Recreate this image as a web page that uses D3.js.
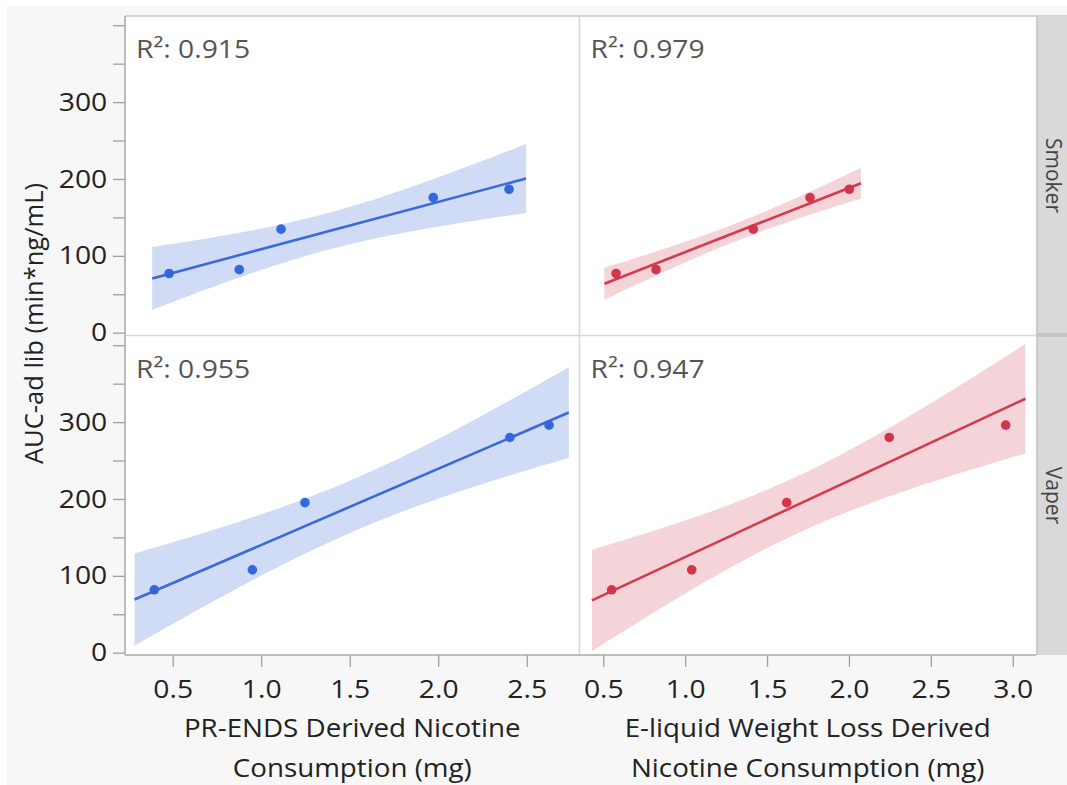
<!DOCTYPE html>
<html><head><meta charset="utf-8">
<script src="https://cdn.jsdelivr.net/npm/d3@7"></script>
<style>body{margin:0;background:#fff} svg{display:block}</style>
</head><body>
<svg id="c" width="1067" height="785"></svg>
<script>
// ---------- data ----------
const groups = ["Smoker", "Vaper"];
const xTitles = [["PR-ENDS Derived Nicotine", "Consumption (mg)"], ["E-liquid Weight Loss Derived", "Nicotine Consumption (mg)"]];
const yTitle = "AUC-ad lib (min*ng/mL)";
const smokerAUC = [77, 82, 134.7, 175.7, 186.6];
const vaperAUC = [81.8, 107.8, 195.2, 280, 296];
const smokerPRENDS = [0.48, 0.876, 1.112, 1.972, 2.40];
const smokerELiquid = [0.578, 0.822, 1.416, 1.762, 2.002];
const vaperPRENDS = [0.396, 0.950, 1.247, 2.405, 2.626];
const vaperELiquid = [0.551, 1.040, 1.620, 2.246, 2.957];
const r2Labels = [["0.915", "0.979"], ["0.955", "0.947"]];
const xTicksLeft = [0.5, 1.0, 1.5, 2.0, 2.5];
const xTicksRight = [0.5, 1.0, 1.5, 2.0, 2.5, 3.0];
const yTickLabels = [0, 100, 200, 300];
const yAllTicks = [0, 50, 100, 150, 200, 250, 300, 350, 400];

const panelX = [[smokerPRENDS, smokerELiquid], [vaperPRENDS, vaperELiquid]];
const panelY = [smokerAUC, vaperAUC];
const colors = [
  {line: "#3b6ad8", dot: "#3466dc", band: "#d0dcf5"},
  {line: "#d33b4e", dot: "#d2354a", band: "#f4d3d9"}
];
const T_CRIT = 3.182446; // t(0.975, df=3)

// ---------- layout ----------
const svg = d3.select("#c");
const FONT = "'Open Sans', 'Noto Sans', sans-serif";
const SX = 1.11; // horizontal stretch of text
const L = 125, M = 579.5, R = 1036, T = 16, H1 = 335, H2 = 336, B = 655;
const cols = [[L, M], [M, R]];
const rows = [[T, H1], [H2, B]];

svg.append("rect").attr("x", 7).attr("y", 6).attr("width", 1060).attr("height", 779).attr("fill", "#f7f7f7");
svg.append("rect").attr("x", L).attr("y", T).attr("width", R - L).attr("height", B - T).attr("fill", "#fff");

const xScales = [
  d3.scaleLinear().domain([0.2305, 2.798]).range([L, M]),
  d3.scaleLinear().domain([0.3547, 3.142]).range([M, R])
];
const yScales = rows.map(r => d3.scaleLinear().domain([-3, 412]).range([r[1], r[0]]));

function fit(xs, ys) {
  const n = xs.length, mx = d3.mean(xs), my = d3.mean(ys);
  let sxx = 0, sxy = 0, syy = 0;
  for (let i = 0; i < n; i++) { sxx += (xs[i]-mx)**2; sxy += (xs[i]-mx)*(ys[i]-my); syy += (ys[i]-my)**2; }
  const b = sxy / sxx, a = my - b * mx;
  const s = Math.sqrt((syy - b * sxy) / (n - 2));
  return {a, b, f: x => a + b * x, half: x => T_CRIT * s * Math.sqrt(1 / n + (x - mx) ** 2 / sxx)};
}

function hText(x, y, txt, size, fill, anchor) {
  return svg.append("text").attr("transform", `translate(${x},${y}) scale(${SX},1)`)
    .attr("text-anchor", anchor || "start").attr("font-family", FONT).attr("font-size", size)
    .attr("fill", fill).text(txt);
}

// dividers
svg.append("line").attr("x1", M).attr("x2", M).attr("y1", T).attr("y2", B).attr("stroke", "#d6d6d6").attr("stroke-width", 1.5);
svg.append("line").attr("x1", L).attr("x2", R).attr("y1", (H1 + H2) / 2).attr("y2", (H1 + H2) / 2).attr("stroke", "#d6d6d6").attr("stroke-width", 1.5);

for (let r = 0; r < 2; r++) {
  for (let c = 0; c < 2; c++) {
    const xs = panelX[r][c], ys = panelY[r], xS = xScales[c], yS = yScales[r];
    const col = colors[c];
    const g = svg.append("g");
    const m = fit(xs, ys);
    const [xmin, xmax] = d3.extent(xs);
    const pad = (xmax - xmin) * 0.05;
    const samples = d3.range(0, 81).map(i => xmin - pad + (xmax - xmin + 2 * pad) * i / 80);
    g.append("path").datum(samples)
      .attr("d", d3.area().x(d => xS(d)).y0(d => yS(m.f(d) - m.half(d))).y1(d => yS(m.f(d) + m.half(d))))
      .attr("fill", col.band);
    g.append("path").datum([xmin - pad, xmax + pad])
      .attr("d", d3.line().x(d => xS(d)).y(d => yS(m.f(d))))
      .attr("stroke", col.line).attr("stroke-width", 2.6).attr("fill", "none");
    g.selectAll("circle").data(xs.map((x, i) => [x, ys[i]])).join("circle")
      .attr("cx", d => xS(d[0])).attr("cy", d => yS(d[1])).attr("r", 4.8).attr("fill", col.dot);
    hText(cols[c][0] + 11, rows[r][0] + 42, "R²: " + r2Labels[r][c], 25.5, "#555");
  }
}

// frame
svg.append("line").attr("x1", L).attr("x2", 1067).attr("y1", T).attr("y2", T).attr("stroke", "#c6c6c6").attr("stroke-width", 1.5);
svg.append("line").attr("x1", L).attr("x2", L).attr("y1", T).attr("y2", B).attr("stroke", "#a8a8a8").attr("stroke-width", 1.5);
svg.append("line").attr("x1", L).attr("x2", R).attr("y1", B).attr("y2", B).attr("stroke", "#a8a8a8").attr("stroke-width", 1.5);

// y axes
for (let r = 0; r < 2; r++) {
  const ax = svg.append("g").attr("transform", `translate(${L},0)`)
    .call(d3.axisLeft(yScales[r]).tickValues(yAllTicks).tickSize(12).tickPadding(4)
      .tickFormat(d => yTickLabels.includes(d) ? d : ""));
  ax.select(".domain").remove();
  ax.selectAll(".tick line").attr("stroke", "#a0a0a0").attr("stroke-width", 1.3);
  ax.selectAll(".tick text").attr("font-family", FONT).attr("font-size", 25.5).attr("fill", "#222")
    .attr("transform", `scale(${SX},1)`);
}
// x axes
[xTicksLeft, xTicksRight].forEach((tv, c) => {
  const ax = svg.append("g").attr("transform", `translate(0,${B})`)
    .call(d3.axisBottom(xScales[c]).tickValues(tv).tickSize(12).tickPadding(13).tickFormat(d3.format(".1f")));
  ax.select(".domain").remove();
  ax.selectAll(".tick line").attr("stroke", "#a0a0a0").attr("stroke-width", 1.3);
  ax.selectAll(".tick text").attr("font-family", FONT).attr("font-size", 25.5).attr("fill", "#222")
    .attr("transform", `scale(${SX},1)`);
  const cx = (cols[c][0] + cols[c][1]) / 2;
  xTitles[c].forEach((t, i) => hText(cx, 737 + i * 40, t, 25, "#222", "middle"));
});
// y title
svg.append("text").attr("transform", `translate(43,${(T + B) / 2 - 12}) rotate(-90)`)
  .attr("text-anchor", "middle").attr("font-family", FONT).attr("font-size", 25.5).attr("fill", "#222").text(yTitle);

// strips
svg.append("rect").attr("x", R + 1).attr("y", T).attr("width", 1067 - R).attr("height", B - T).attr("fill", "#d9d9d9");
svg.append("line").attr("x1", R + 1).attr("x2", R + 1).attr("y1", T).attr("y2", B).attr("stroke", "#c2c2c2").attr("stroke-width", 1.5);
svg.append("rect").attr("x", R + 1).attr("y", H1 - 2).attr("width", 1067 - R).attr("height", 4).attr("fill", "#c4c4c4");
groups.forEach((gname, r) => {
  svg.append("text").attr("transform", `translate(${R + 10},${(rows[r][0] + rows[r][1]) / 2}) rotate(90)`)
    .attr("text-anchor", "middle").attr("font-family", FONT).attr("font-size", 21).attr("fill", "#444").text(gname);
});
</script>
</body></html>
